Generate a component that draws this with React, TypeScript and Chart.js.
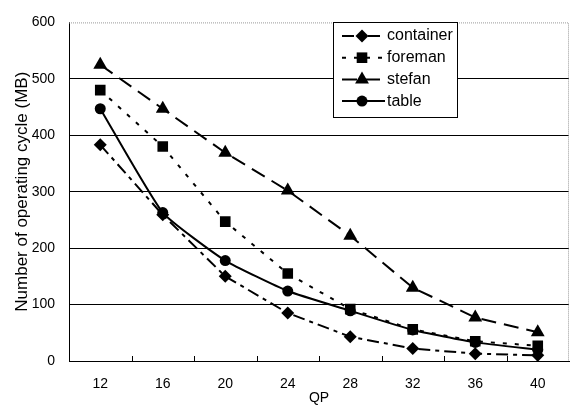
import React, { useEffect, useRef } from "react";
import { Chart, registerables } from "chart.js";

Chart.register(...registerables);

const categories = ["12", "16", "20", "24", "28", "32", "36", "40"];
const containerValues = [383, 259, 150, 85, 43, 22, 13, 10];
const foremanValues = [480, 380, 247, 155, 92, 56, 35, 27];
const stefanValues = [525, 447, 369, 302, 222, 130, 77, 51];
const tableValues = [447, 263, 178, 124, 89, 55, 33, 20];
const seriesNames = ["container", "foreman", "stefan", "table"];
const yTicks = [0, 100, 200, 300, 400, 500, 600];

const FONT = "'Liberation Sans', Arial, sans-serif";

function drawMarker(ctx: CanvasRenderingContext2D, style: string, x: number, y: number, r: number) {
  ctx.beginPath();
  if (style === "rectRot") {
    ctx.moveTo(x, y - r);
    ctx.lineTo(x + r, y);
    ctx.lineTo(x, y + r);
    ctx.lineTo(x - r, y);
  } else if (style === "rect") {
    const s = r * Math.SQRT1_2;
    ctx.rect(x - s, y - s, 2 * s, 2 * s);
  } else if (style === "triangle") {
    ctx.moveTo(x, y - r);
    ctx.lineTo(x + r * 0.866, y + r * 0.5);
    ctx.lineTo(x - r * 0.866, y + r * 0.5);
  } else {
    ctx.arc(x, y, r, 0, Math.PI * 2);
  }
  ctx.closePath();
  ctx.fill();
}

const framePlugin = {
  id: "frame",
  afterDatasetsDraw(chart: any) {
    const { ctx, chartArea, scales } = chart;
    ctx.save();
    ctx.strokeStyle = "#9a9a9a";
    ctx.lineWidth = 1;
    ctx.setLineDash([1, 1]);
    ctx.beginPath();
    ctx.moveTo(chartArea.left, chartArea.top + 0.5);
    ctx.lineTo(chartArea.right - 0.5, chartArea.top + 0.5);
    ctx.lineTo(chartArea.right - 0.5, chartArea.bottom);
    ctx.stroke();
    ctx.setLineDash([]);
    const xs = scales.x;
    ctx.strokeStyle = "#000";
    ctx.beginPath();
    for (let i = 0; i < categories.length - 1; i++) {
      const px = Math.round((xs.getPixelForValue(i) + xs.getPixelForValue(i + 1)) / 2) + 0.5;
      ctx.moveTo(px, chartArea.bottom);
      ctx.lineTo(px, chartArea.bottom - 5);
    }
    ctx.stroke();

    const bx = 333, by = 22, bw = 124, bh = 95;
    ctx.fillStyle = "#fff";
    ctx.fillRect(bx, by, bw, bh);
    ctx.strokeStyle = "#000";
    ctx.lineWidth = 1;
    ctx.strokeRect(bx + 0.5, by + 0.5, bw, bh);
    chart.data.datasets.forEach((ds: any, i: number) => {
      const y = by + 14 + i * 21.7;
      ctx.strokeStyle = "#000";
      ctx.lineWidth = ds.borderWidth;
      ctx.setLineDash(ds.borderDash || []);
      ctx.beginPath();
      ctx.moveTo(bx + 9, y);
      ctx.lineTo(bx + 52, y);
      ctx.stroke();
      ctx.setLineDash([]);
      ctx.fillStyle = "#000";
      drawMarker(ctx, ds.pointStyle, bx + 29, y, ds.pointRadius);
      ctx.font = `16px ${FONT}`;
      ctx.textBaseline = "middle";
      ctx.textAlign = "left";
      ctx.fillText(ds.label, bx + 54, y);
    });
    ctx.restore();
  },
};

export default function App() {
  const ref = useRef<HTMLCanvasElement>(null);
  useEffect(() => {
    if (!ref.current) return;
    const mk = (label: string, data: number[], pointStyle: string, r: number, dash: number[], tension = 0) => ({
      label,
      data,
      borderColor: "#000",
      backgroundColor: "#000",
      pointBackgroundColor: "#000",
      pointBorderColor: "#000",
      pointStyle,
      pointRadius: r,
      pointBorderWidth: 0,
      borderWidth: 2,
      borderDash: dash,
      tension,
    });
    const chart = new Chart(ref.current, {
      type: "line",
      data: {
        labels: categories,
        datasets: [
          mk(seriesNames[0], containerValues, "rectRot", 6.5, [12, 5, 4, 5]),
          mk(seriesNames[1], foremanValues, "rect", 7.5, [4, 8]),
          mk(seriesNames[2], stefanValues, "triangle", 8, [15, 8]),
          mk(seriesNames[3], tableValues, "circle", 5.5, [], 0.15),
        ],
      },
      plugins: [framePlugin],
      options: {
        animation: false,
        responsive: false,
        maintainAspectRatio: false,
        layout: { padding: { left: 0, right: 1, top: 15, bottom: 0 } },
        plugins: { legend: { display: false }, tooltip: { enabled: false } },
        scales: {
          x: {
            type: "category",
            offset: true,
            grid: { display: false, drawTicks: false },
            border: { display: true, color: "#000", width: 1 },
            ticks: { color: "#000", font: { family: FONT, size: 14 }, padding: 15, maxRotation: 0 },
            title: { display: true, text: "QP", color: "#000", font: { family: FONT, size: 14 }, padding: { top: 0, bottom: 0 } },
            afterFit: (s: any) => { s.height = 46; },
          },
          y: {
            min: 0,
            max: 600,
            afterBuildTicks: (s: any) => { s.ticks = yTicks.map((v) => ({ value: v })); },
            grid: {
              drawTicks: false,
              color: (c: any) => (c.tick && c.tick.value === 600 ? "rgba(0,0,0,0)" : "#000"),
              lineWidth: 1,
            },
            border: { display: true, color: "#000", width: 1 },
            ticks: { color: "#000", font: { family: FONT, size: 14 }, padding: 14 },
            title: { display: true, text: "Number of operating cycle (MB)", color: "#000", font: { family: FONT, size: 17 }, padding: { top: 12, bottom: 0 } },
            afterFit: (s: any) => { s.width = 69; },
          },
        },
      },
    });
    return () => chart.destroy();
  }, []);
  return (
    <div style={{ position: "fixed", left: 0, top: 0, width: 577, height: 407, background: "#fff" }}>
      <canvas ref={ref} width={577} height={407} style={{ width: 577, height: 407 }} />
    </div>
  );
}
